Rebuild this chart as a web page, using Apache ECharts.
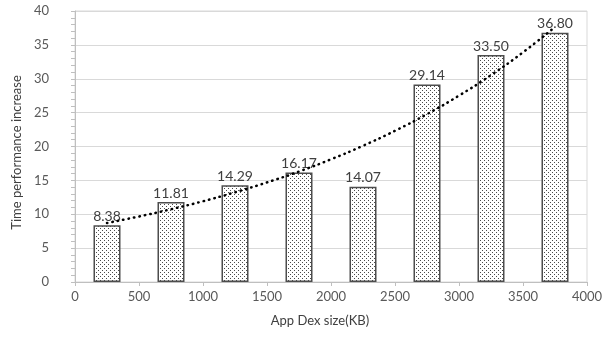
<!DOCTYPE html>
<html><head><meta charset="utf-8">
<script src="https://cdn.jsdelivr.net/npm/echarts@6/dist/echarts.min.js"></script>
<style>html,body{margin:0;padding:0;background:#fff}#c{width:611px;height:337px}</style>
</head><body><div id="c"></div>
<script>
// Data
const sizesKB = [250, 750, 1250, 1750, 2250, 2750, 3250, 3750];
const timeIncrease = [8.38, 11.81, 14.29, 16.17, 14.07, 29.14, 33.50, 36.80];
const trendX = [250, 500, 750, 1000, 1250, 1500, 1750, 2000, 2250, 2500, 2750, 3000, 3250, 3500, 3750];
const trendY = [8.71, 9.67, 10.74, 11.92, 13.24, 14.70, 16.31, 18.11, 20.11, 22.32, 24.78, 27.51, 30.54, 33.90, 37.64];
const xTicks = [0, 500, 1000, 1500, 2000, 2500, 3000, 3500, 4000];
const yTicks = [0, 5, 10, 15, 20, 25, 30, 35, 40];

// dotted fill pattern
const pc = document.createElement('canvas');
pc.width = 4; pc.height = 4;
const g = pc.getContext('2d');
g.fillStyle = '#ffffff'; g.fillRect(0, 0, 4, 4);
g.fillStyle = '#4a4a4a';
g.fillRect(0, 0, 1, 1); g.fillRect(2, 2, 1, 1);

const font = 'Lato, "Liberation Sans", sans-serif';
const chart = echarts.init(document.getElementById('c'), null, {renderer: 'canvas'});
chart.setOption({
  animation: false,
  backgroundColor: '#fff',
  grid: {left: 75, right: 24, top: 11, bottom: 55, show: true, borderColor: '#d9d9d9', borderWidth: 1},
  xAxis: {
    type: 'value', min: xTicks[0], max: xTicks[xTicks.length - 1], interval: 500,
    name: 'App Dex size(KB)', nameLocation: 'middle', nameGap: 32,
    nameTextStyle: {fontFamily: font, fontSize: 13, color: '#404040', padding: [0, 22, 0, 0]},
    axisLine: {show: true, lineStyle: {color: '#bfbfbf'}},
    axisTick: {show: true, length: 4, lineStyle: {color: '#bfbfbf'}},
    axisLabel: {fontFamily: font, fontSize: 13, color: '#595959', margin: 8, formatter: v => String(v)},
    splitLine: {show: false}
  },
  yAxis: {
    type: 'value', min: yTicks[0], max: yTicks[yTicks.length - 1], interval: 5,
    name: 'Time performance increase', nameLocation: 'middle', nameGap: 46,
    nameTextStyle: {fontFamily: font, fontSize: 13, color: '#404040', padding: [0, 12, 0, 0]},
    axisLine: {show: true, lineStyle: {color: '#bfbfbf'}},
    axisTick: {show: true, length: 4, lineStyle: {color: '#bfbfbf'}},
    minorTick: {show: true, splitNumber: 5, length: 4, lineStyle: {color: '#bfbfbf'}},
    axisLabel: {fontFamily: font, fontSize: 13, color: '#595959', margin: 26, align: 'right'},
    splitLine: {show: true, lineStyle: {color: '#d9d9d9'}}
  },
  series: [
    {
      type: 'bar', barWidth: 27,
      data: sizesKB.map((x, i) => [x, timeIncrease[i]]),
      itemStyle: {color: {image: pc, repeat: 'repeat'}, borderColor: '#4d4d4d', borderWidth: 1.5},
      label: {show: true, position: 'top', distance: 2, fontFamily: font, fontSize: 14, color: '#404040',
        formatter: p => p.value[1].toFixed(2)},
      z: 2
    },
    {
      type: 'line', smooth: true, symbol: 'none',
      data: trendX.map((x, i) => [x, trendY[i]]),
      lineStyle: {color: '#000', width: 2.5, type: [0.5, 5], cap: 'round'},
      z: 3
    }
  ]
});
</script></body></html>
